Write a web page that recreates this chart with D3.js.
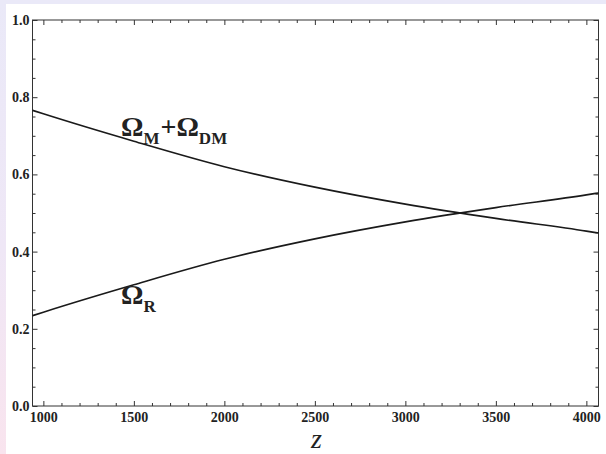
<!DOCTYPE html>
<html>
<head>
<meta charset="utf-8">
<script src="https://cdn.jsdelivr.net/npm/d3@7"></script>
<style>
  html, body { margin: 0; padding: 0; background: #fff; }
  svg { display: block; }
  .axis path { display: none; }
  .axis line { stroke: #333; }
  .axis text { font-family: "Liberation Serif", "DejaVu Serif", serif; font-weight: bold; font-size: 14px; fill: #222; }
</style>
</head>
<body>
<div id="chart"></div>
<script>
// values
var zValues = [940, 1000, 1500, 2000, 2500, 3000, 3500, 4000, 4067];
var omegaMatter = [0.766, 0.757, 0.686, 0.620, 0.567, 0.523, 0.486, 0.453, 0.448];
var omegaRad = [0.234, 0.243, 0.314, 0.380, 0.433, 0.477, 0.514, 0.547, 0.552];
var xTicks = [1000, 1500, 2000, 2500, 3000, 3500, 4000];
var yTicks = [0.0, 0.2, 0.4, 0.6, 0.8, 1.0];

function drawChart() {
  var width = 606;
  var height = 454;
  var plotLeft = 32.5, plotRight = 598.5, plotTop = 20, plotBottom = 406;

  var svg = d3.select('#chart').append('svg')
    .attr('width', width)
    .attr('height', height);

  /* background frame (lavender / pink border) */
  var grad = svg.append('defs').append('linearGradient')
    .attr('id', 'bg')
    .attr('x1', 0).attr('y1', 0).attr('x2', 0).attr('y2', 1);
  grad.append('stop').attr('offset', '0%').attr('stop-color', '#eae9f8');
  grad.append('stop').attr('offset', '55%').attr('stop-color', '#efe7f6');
  grad.append('stop').attr('offset', '100%').attr('stop-color', '#f9e4ee');

  svg.append('rect')
    .attr('width', width).attr('height', height)
    .attr('fill', 'url(#bg)');
  svg.append('rect')
    .attr('x', 6).attr('y', 4)
    .attr('width', width - 6).attr('height', height - 4)
    .attr('fill', '#fff');

  /* Scale */
  var x = d3.scaleLinear()
    .domain([zValues[0], zValues[zValues.length - 1]])
    .range([plotLeft, plotRight]);
  var y = d3.scaleLinear()
    .domain([0, 1])
    .range([plotBottom, plotTop]);

  var xMinor = d3.range(1000, 4001, 100).filter(d => d % 500 !== 0);
  var yMinor = d3.range(0, 1.001, 0.05).filter(d => Math.abs(d * 5 - Math.round(d * 5)) > 1e-6);

  /* Frame */
  svg.append('rect')
    .attr('x', plotLeft).attr('y', plotTop)
    .attr('width', plotRight - plotLeft).attr('height', plotBottom - plotTop)
    .attr('fill', 'none')
    .attr('stroke', '#333')
    .attr('stroke-width', 1);

  /* Axes (ticks inside, on all four sides) */
  function addAxis(axis, tx, ty) {
    svg.append('g')
      .attr('class', 'axis')
      .attr('transform', `translate(${tx}, ${ty})`)
      .call(axis);
  }
  addAxis(d3.axisBottom(x).tickValues(xTicks).tickSize(-5).tickPadding(6).tickFormat(d3.format('d')), 0, plotBottom);
  addAxis(d3.axisBottom(x).tickValues(xMinor).tickSize(-3).tickFormat(''), 0, plotBottom);
  addAxis(d3.axisTop(x).tickValues(xTicks).tickSize(-5).tickFormat(''), 0, plotTop);
  addAxis(d3.axisTop(x).tickValues(xMinor).tickSize(-3).tickFormat(''), 0, plotTop);
  addAxis(d3.axisLeft(y).tickValues(yTicks).tickSize(-5).tickPadding(3).tickFormat(d3.format('.1f')), plotLeft, 0);
  addAxis(d3.axisLeft(y).tickValues(yMinor).tickSize(-3).tickFormat(''), plotLeft, 0);
  addAxis(d3.axisRight(y).tickValues(yTicks).tickSize(-5).tickFormat(''), plotRight, 0);
  addAxis(d3.axisRight(y).tickValues(yMinor).tickSize(-3).tickFormat(''), plotRight, 0);

  /* Curves */
  var line = d3.line()
    .x(d => x(d[0]))
    .y(d => y(d[1]))
    .curve(d3.curveMonotoneX);

  [omegaMatter, omegaRad].forEach(function (vals) {
    svg.append('path')
      .attr('d', line(zValues.map((z, i) => [z, vals[i]])))
      .attr('fill', 'none')
      .attr('stroke', '#1a1a1a')
      .attr('stroke-width', 1.6);
  });

  /* Labels */
  var serif = '"Liberation Serif", "DejaVu Serif", serif';

  var lm = svg.append('text')
    .attr('x', 121).attr('y', 136)
    .attr('font-family', serif)
    .attr('font-weight', 'bold')
    .attr('font-size', 28)
    .attr('fill', '#222');
  lm.append('tspan').text('Ω');
  lm.append('tspan').attr('font-size', 17).attr('dy', 8).text('M');
  lm.append('tspan').attr('dy', -8).attr('dx', 1).text('+Ω');
  lm.append('tspan').attr('font-size', 17).attr('dy', 8).text('DM');

  var lr = svg.append('text')
    .attr('x', 121).attr('y', 304)
    .attr('font-family', serif)
    .attr('font-weight', 'bold')
    .attr('font-size', 28)
    .attr('fill', '#222');
  lr.append('tspan').text('Ω');
  lr.append('tspan').attr('font-size', 17).attr('dy', 8).text('R');

  svg.append('text')
    .attr('x', (plotLeft + plotRight) / 2 + 1)
    .attr('y', 448)
    .attr('text-anchor', 'middle')
    .attr('font-family', serif)
    .attr('font-style', 'italic')
    .attr('font-size', 28)
    .attr('fill', '#222')
    .text('z');
}

drawChart();
</script>
</body>
</html>
